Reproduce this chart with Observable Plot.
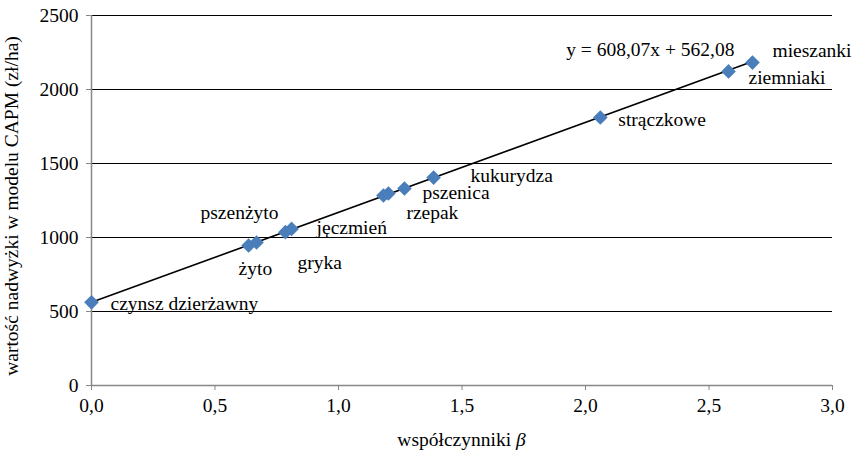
<!DOCTYPE html>
<html><head><meta charset="utf-8">
<script src="https://cdn.jsdelivr.net/npm/d3@7"></script>
<script src="https://cdn.jsdelivr.net/npm/@observablehq/plot@0.6"></script>
<style>
body{margin:0;background:#fff;font-family:"Liberation Serif";}
#chart svg{display:block;}
</style>
</head><body><div id="chart"></div>
<script>
// Data
const names = ["czynsz dzierżawny","żyto","pszenżyto","gryka","jęczmień","","rzepak","pszenica","kukurydza","strączkowe","ziemniaki","mieszanki"];
const beta  = [0.0, 0.636, 0.668, 0.785, 0.81, 1.182, 1.202, 1.267, 1.385, 2.06, 2.579, 2.676];
const value = [562, 946, 966, 1036, 1058, 1284, 1297, 1331, 1405, 1811, 2122, 2182];
const slope = 608.07, intercept = 562.08;
const equation = "y = 608,07x + 562,08";
const xTicks = [0, 0.5, 1.0, 1.5, 2.0, 2.5, 3.0];
const yTicks = [0, 500, 1000, 1500, 2000, 2500];
const xTitle = "współczynniki ";
const xTitleSym = "β";
const yTitle = "wartość nadwyżki w modelu CAPM (zł/ha)";

// label offsets (pixels) - styling only
const labelOffsets = [[19,1],[-10,23],[-56,-30],[12,31],[25,-1],[0,0],[18,19],[18,4],[37,-2],[18,2],[20,6],[20,-12]];

const points = names.map((n,i)=>({name:n, beta:beta[i], value:value[i]}));
const bmin = d3.min(beta), bmax = d3.max(beta);
const trend = [bmin, bmax].map(b=>({beta:b, value: slope*b + intercept}));

const font = "Liberation Serif";
const FS = 19.5;
const W = 852, H = 469, mL = 91, mR = 20, mT = 15, mB = 84;

const labelMarks = points.map((p,i)=> p.name ? Plot.text([p], {x:"beta", y:"value", text:"name", textAnchor:"start", dx: labelOffsets[i][0], dy: labelOffsets[i][1], fill:"black", fontSize: FS, fontFamily: font}) : null).filter(Boolean);

const plot = Plot.plot({
  width: W, height: H,
  marginLeft: mL, marginRight: mR, marginTop: mT, marginBottom: mB,
  style: `font-family: ${font}; font-size: ${FS}px; background: white; color: black; overflow: visible;`,
  x: {domain: [0, 3]},
  y: {domain: [0, 2500]},
  marks: [
    Plot.gridY(yTicks.filter(d=>d>0), {stroke: "black", strokeOpacity: 1, strokeWidth: 1}),
    Plot.ruleY([0], {stroke: "#878787", strokeWidth: 1.5}),
    Plot.ruleX([0], {stroke: "#878787", strokeWidth: 1.5}),
    Plot.axisX({ticks: xTicks, tickFormat: d => d.toFixed(1).replace(".", ","), tickSize: 5, tickPadding: 8, stroke: "#878787", fill: "black", fontSize: FS, fontFamily: font, label: null}),
    Plot.axisY({ticks: yTicks, tickFormat: d => String(d), tickSize: 5, tickPadding: 8, stroke: "#878787", fill: "black", fontSize: FS, fontFamily: font, label: null}),
    Plot.line(trend, {x: "beta", y: "value", stroke: "black", strokeWidth: 1.6}),
    Plot.dot(points, {x: "beta", y: "value", symbol: "diamond2", r: 6.6, fill: "#4a7ebb", stroke: "none"}),
    ...labelMarks,
    Plot.text([trend[1]], {x: "beta", y: "value", text: () => equation, textAnchor: "end", dx: -18, dy: -12, fill: "black", fontSize: FS, fontFamily: font})
  ]
});

document.getElementById("chart").appendChild(plot);

// axis titles
const svg = d3.select(plot);
svg.attr("font-family", font);
const xt = svg.append("text")
  .attr("x", (mL + (W - mR)) / 2).attr("y", 442)
  .attr("text-anchor", "middle").attr("dominant-baseline", "middle")
  .attr("font-family", font).attr("font-size", FS).attr("fill", "black");
xt.append("tspan").text(xTitle);
xt.append("tspan").attr("font-style", "italic").text(xTitleSym);

svg.append("text")
  .attr("transform", `translate(14,${206}) rotate(-90)`)
  .attr("text-anchor", "middle").attr("dominant-baseline", "middle")
  .attr("font-family", font).attr("font-size", FS).attr("fill", "black")
  .text(yTitle);
</script>
</body></html>
